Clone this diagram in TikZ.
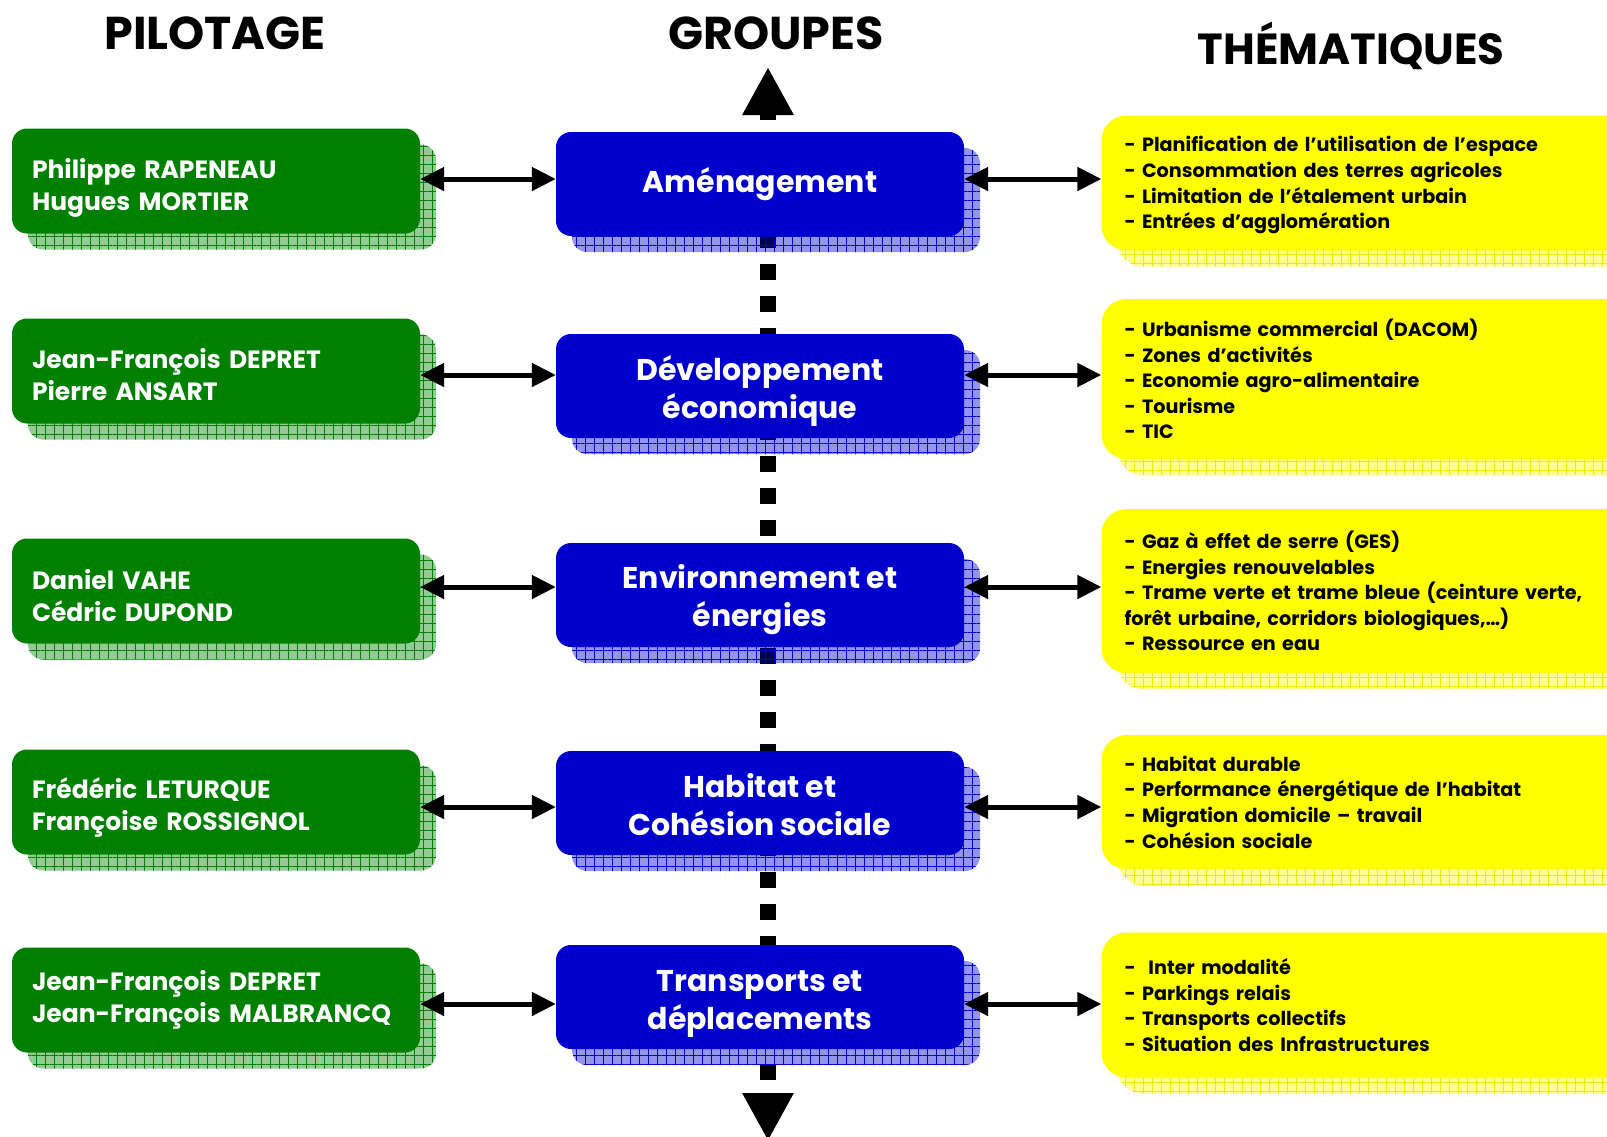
\documentclass[tikz,border=0pt]{standalone}
\usepackage{fontspec}
\setmainfont{Poppins}
\usetikzlibrary{arrows.meta,shadows,patterns.meta}

\definecolor{vert}{HTML}{008000}
\definecolor{bleu}{HTML}{0000CC}
\definecolor{jaune}{HTML}{FFFF00}

\tikzset{
  ombre/.style 2 args={
    general shadow={shadow xshift=16pt, shadow yshift=-16pt, fill=#1, fill opacity=0.42},
    general shadow={shadow xshift=16pt, shadow yshift=-16pt,
      pattern={Hatch[distance=9pt, line width=0.7pt]}, pattern color=#2, fill opacity=0.6}},
  titre/.style={anchor=base, font=\bfseries\fontsize{46}{54}\selectfont},
  lignes/.style={text height=#1, text depth=0pt},
  noms/.style={text height=#1, text depth=38pt},
  pilote/.style={rectangle, rounded corners=15pt, fill=vert, text=white,
    font=\bfseries\fontsize{25}{32}\selectfont, text width=368pt, inner xsep=20pt,
    minimum height=105pt, align=left, ombre={vert}{vert}},
  groupe/.style={rectangle, rounded corners=15pt, fill=bleu, text=white,
    font=\bfseries\fontsize{30}{38}\selectfont, minimum width=408pt,
    minimum height=104pt, align=center, ombre={bleu}{bleu}},
  theme/.style={rectangle, rounded corners=25pt, fill=jaune, text=black,
    font=\bfseries\fontsize{19.2}{25.6}\selectfont, text width=485pt, inner xsep=23pt,
    align=left, ombre={jaune}{jaune!92!black}},
  lien/.style={{Triangle[length=24pt,width=23pt]}-{Triangle[length=24pt,width=23pt]}, line width=5pt},
  axe/.style={{Triangle[length=48pt,width=48pt]}-{Triangle[length=48pt,width=48pt]},
    line width=16pt, dash pattern=on 16pt off 16pt, dash phase=8pt},
}

\begin{document}
\begin{tikzpicture}[x=1pt, y=-1pt]
\useasboundingbox (0,0) rectangle (1607,1136);

% titres
\node[titre] (tpil) at (215,49) {PILOTAGE};
\node[titre] (tgrp) at (776,49) {GROUPES};
\node[titre, font=\bfseries\fontsize{43.5}{50}\selectfont] (tthm) at (1351,64) {THÉMATIQUES};

% axe vertical
\coordinate (axhaut) at (768,67);
\coordinate (axbas)  at (768,1141);
\draw[axe] (axhaut) -- (axbas);

% pilotage
\node[pilote, noms=32pt] (p1) at (216,181)  {Philippe RAPENEAU\\Hugues MORTIER};
\node[pilote, noms=32pt] (p2) at (216,371)  {Jean-François DEPRET\\Pierre ANSART};
\node[pilote, noms=34pt] (p3) at (216,591)  {Daniel VAHE\\Cédric DUPOND};
\node[pilote, noms=31pt] (p4) at (216,802)  {Frédéric LETURQUE\\Françoise ROSSIGNOL};
\node[pilote, noms=18pt] (p5) at (216,1000) {Jean-François DEPRET\\Jean-François MALBRANCQ};

% groupes
\node[groupe] (g1) at (760,184)  {Aménagement};
\node[groupe, lignes=65pt] (g2) at (760,386)  {Développement\\économique};
\node[groupe, lignes=63pt] (g3) at (760,595)  {Environnement et\\énergies};
\node[groupe, lignes=64pt] (g4) at (760,803)  {Habitat et\\Cohésion sociale};
\node[groupe, lignes=64pt] (g5) at (760,997)  {Transports et\\déplacements};

% thematiques
\node[theme, minimum height=135pt, text height=20pt] (t1) at (1367,183)
  {- Planification de l’utilisation de l’espace\\- Consommation des terres agricoles\\- Limitation de l’étalement urbain\\- Entrées d’agglomération};
\node[theme, minimum height=160pt] (t2) at (1367,379)
  {- Urbanisme commercial (DACOM)\\- Zones d’activités\\- Economie agro-alimentaire\\- Tourisme\\- TIC};
\node[theme, minimum height=164pt] (t3) at (1367,591)
  {- Gaz à effet de serre (GES)\\- Energies renouvelables\\- Trame verte et trame bleue (ceinture verte,\\forêt urbaine, corridors biologiques,…)\\- Ressource en eau};
\node[theme, minimum height=134pt] (t4) at (1367,802)
  {- Habitat durable\\- Performance énergétique de l’habitat\\- Migration domicile – travail\\- Cohésion sociale};
\node[theme, minimum height=145pt] (t5) at (1367,1005)
  {-\ \ Inter modalité\\- Parkings relais\\- Transports collectifs\\- Situation des Infrastructures};

% liens
\foreach \i/\y in {1/179, 2/375, 3/587, 4/807, 5/1004} {
  \coordinate (h\i) at (0,\y);
  \draw[lien] (p\i.east |- h\i) -- (g\i.west |- h\i);
  \draw[lien] (g\i.east |- h\i) -- (t\i.west |- h\i);
}
\end{tikzpicture}
\end{document}
